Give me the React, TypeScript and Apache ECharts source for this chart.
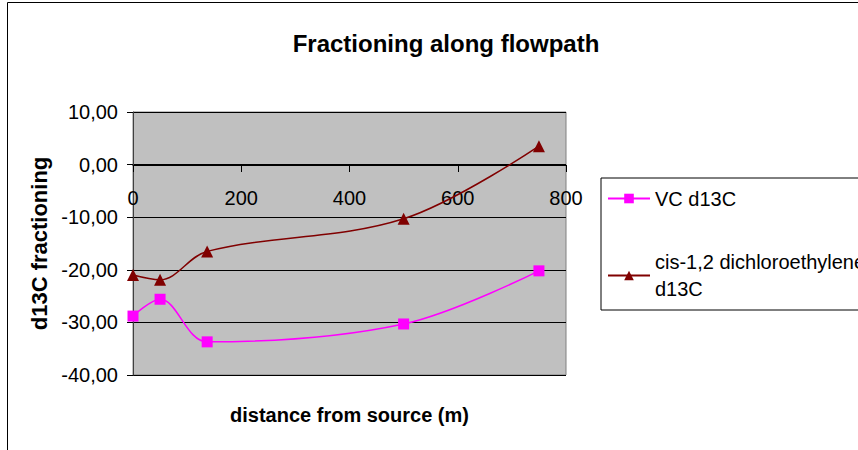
import React, { useEffect, useRef } from "react";
import * as echarts from "echarts";

const distances = [0, 50, 137, 500, 750];
const vcValues = [-28.8, -25.6, -33.7, -30.3, -20.2];
const dceValues = [-21.0, -21.9, -16.5, -10.3, 3.5];
const vcName = "VC d13C";
const dceName = "cis-1,2 dichloroethylene d13C";

const FONT = "'Liberation Sans', Arial, sans-serif";

export default function App() {
  const ref = useRef<HTMLDivElement>(null);
  useEffect(() => {
    if (!ref.current) return;
    const chart = echarts.init(ref.current, null, { renderer: "svg" });
    chart.setOption({
      animation: false,
      backgroundColor: "#ffffff",
      title: {
        text: "Fractioning along flowpath",
        left: 441,
        top: 26,
        textAlign: "center",
        textStyle: { fontFamily: FONT, fontSize: 24, fontWeight: "bold", color: "#000" },
      },
      graphic: [
        {
          type: "rect",
          shape: { x: 7.5, y: 2.5, width: 1000, height: 1000 },
          style: { fill: "none", stroke: "#000", lineWidth: 1 },
          silent: true,
        },
      ],
      legend: {
        orient: "vertical",
        left: 601,
        top: 178,
        padding: [7, 20, -6, 6],
        borderColor: "#000",
        borderWidth: 1,
        backgroundColor: "#fff",
        itemWidth: 42,
        itemHeight: 12,
        itemGap: 23,
        textStyle: { fontFamily: FONT, fontSize: 20, color: "#000", lineHeight: 27 },
        data: [
          { name: vcName },
          { name: dceName, textStyle: { padding: [27, 0, 0, 0] } },
        ],
        formatter: (n: string) =>
          n === dceName ? "cis-1,2 dichloroethylene\nd13C" : n,
      },
      grid: {
        left: 133,
        right: 292,
        top: 112,
        bottom: 75,
        containLabel: false,
        outerBoundsMode: "none",
        show: true,
        backgroundColor: "#c0c0c0",
        borderColor: "#808080",
        borderWidth: 1,
      },
      xAxis: {
        type: "value",
        min: 0,
        max: 800,
        interval: 200,
        position: "bottom",
        offset: -210,
        name: "distance from source (m)",
        nameLocation: "middle",
        nameGap: 240,
        nameTextStyle: { fontFamily: FONT, fontSize: 20, fontWeight: "bold", color: "#000" },
        axisLine: { onZero: false, lineStyle: { color: "#000", width: 1 } },
        axisTick: { show: true, length: 7, lineStyle: { color: "#000" } },
        axisLabel: { fontFamily: FONT, fontSize: 20, color: "#000", margin: 23 },
        splitLine: { show: false },
      },
      yAxis: {
        type: "value",
        min: -40,
        max: 10,
        interval: 10,
        name: "d13C fractioning",
        nameLocation: "middle",
        nameGap: 73,
        nameTextStyle: { fontFamily: FONT, fontSize: 22, fontWeight: "bold", color: "#000" },
        axisLine: { show: true, onZero: false, lineStyle: { color: "#404040", width: 1 } },
        axisTick: { show: true, length: 6, lineStyle: { color: "#000" } },
        axisLabel: {
          fontFamily: FONT,
          fontSize: 20,
          color: "#000",
          margin: 15,
          formatter: (v: number) => v.toFixed(2).replace(".", ","),
        },
        splitLine: { show: true, lineStyle: { color: "#000", width: 1 } },
      },
      series: [
        {
          name: vcName,
          type: "line",
          smooth: 0.35,
          data: distances.map((d, i) => [d, vcValues[i]]),
          symbol: "rect",
          symbolSize: 11,
          itemStyle: { color: "#ff00ff" },
          lineStyle: { color: "#ff00ff", width: 1.5 },
        },
        {
          name: dceName,
          type: "line",
          smooth: 0.35,
          data: distances.map((d, i) => [d, dceValues[i]]),
          symbol: "triangle",
          symbolSize: 12,
          itemStyle: { color: "#800000" },
          lineStyle: { color: "#800000", width: 1.5 },
        },
      ],
    });
    return () => chart.dispose();
  }, []);
  return (
    <div
      ref={ref}
      style={{ position: "fixed", left: 0, top: 0, width: 858, height: 450 }}
    />
  );
}
